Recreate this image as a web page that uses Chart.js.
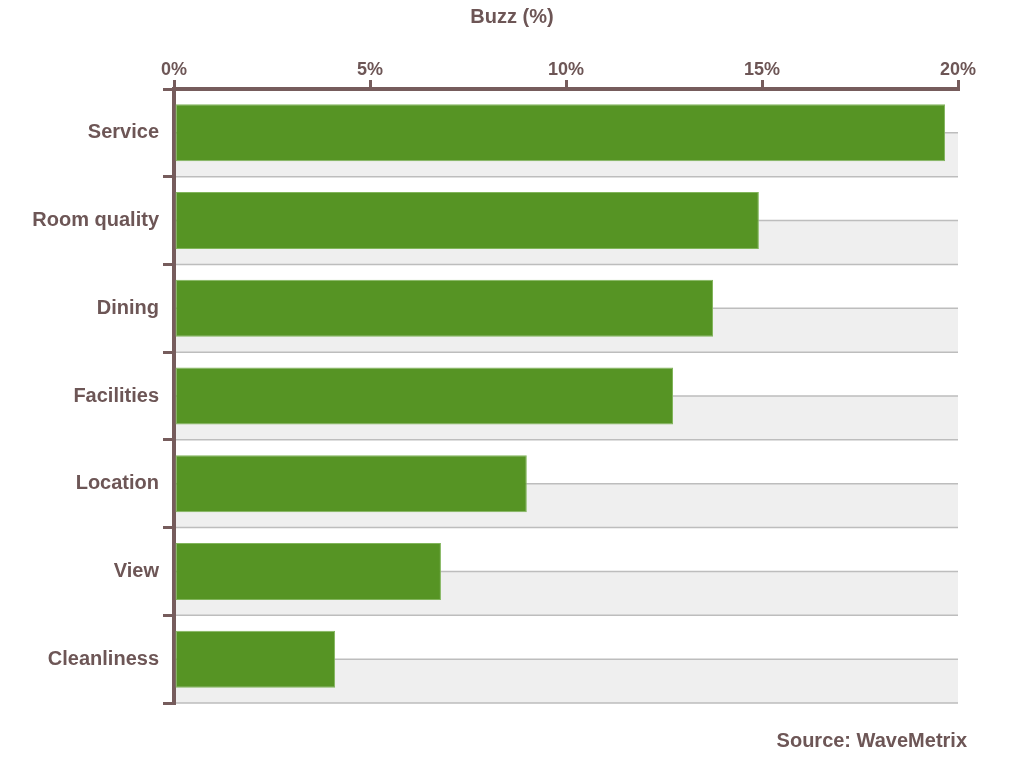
<!DOCTYPE html>
<html>
<head>
<meta charset="utf-8">
<script src="https://cdn.jsdelivr.net/npm/chart.js@4/dist/chart.umd.min.js"></script>
<style>
  html, body { margin: 0; padding: 0; background: #fff; }
  #wrap { width: 1024px; height: 768px; position: relative; }
</style>
</head>
<body>
<div id="wrap"><canvas id="buzzChart" width="1024" height="768"></canvas></div>
<script>
const categories = ["Service", "Room quality", "Dining", "Facilities", "Location", "View", "Cleanliness"];
const buzzValues = [19.67, 14.92, 13.75, 12.73, 9.0, 6.81, 4.11];
const xTickValues = [0, 5, 10, 15, 20];

const brown = "#765c5c";
const textBrown = "#6d5656";
const fontFamily = "'Liberation Sans', Arial, sans-serif";

// grey lower half of each row plus the thin rules, drawn before the axes
const bandPlugin = {
  id: "bands",
  beforeDraw(chart) {
    const { ctx, chartArea, scales } = chart;
    const y = scales.y;
    const half = (y.getPixelForValue(1) - y.getPixelForValue(0)) / 2;
    ctx.save();
    categories.forEach((c, i) => {
      const mid = y.getPixelForValue(i);
      ctx.fillStyle = "#efefef";
      ctx.fillRect(chartArea.left, mid, chartArea.right - chartArea.left, half);
      ctx.strokeStyle = "#bdbdbd";
      ctx.lineWidth = 1.5;
      ctx.beginPath();
      ctx.moveTo(chartArea.left, mid);
      ctx.lineTo(chartArea.right, mid);
      ctx.moveTo(chartArea.left, mid + half);
      ctx.lineTo(chartArea.right, mid + half);
      ctx.stroke();
    });
    ctx.restore();
  }
};

const textPlugin = {
  id: "texts",
  afterDraw(chart) {
    const { ctx, chartArea } = chart;
    ctx.save();
    ctx.fillStyle = textBrown;
    ctx.textBaseline = "middle";
    ctx.font = "bold 20px " + fontFamily;
    ctx.textAlign = "center";
    ctx.fillText("Buzz (%)", chart.width / 2, 17);
    ctx.textAlign = "right";
    ctx.fillText("Source: WaveMetrix", chartArea.right + 9, 741);
    ctx.restore();
  }
};

new Chart(document.getElementById("buzzChart"), {
  type: "bar",
  data: {
    labels: categories,
    datasets: [{
      label: "Buzz (%)",
      data: buzzValues,
      backgroundColor: "#569424",
      borderColor: "#82b55c",
      borderWidth: 1,
      borderSkipped: false,
      barPercentage: 0.65,
      categoryPercentage: 1.0
    }]
  },
  options: {
    indexAxis: "y",
    responsive: false,
    animation: false,
    layout: { padding: { left: 0, right: 66, top: 38, bottom: 65 } },
    scales: {
      x: {
        position: "top",
        min: 0,
        max: 20,
        afterBuildTicks(scale) {
          scale.ticks = xTickValues.map(v => ({ value: v }));
        },
        afterFit(scale) {
          scale.height = 51;
        },
        ticks: {
          callback: v => v + "%",
          color: textBrown,
          font: { family: fontFamily, size: 18, weight: "bold" },
          padding: -1,
          maxRotation: 0
        },
        grid: {
          drawOnChartArea: false,
          drawTicks: true,
          tickLength: 9,
          color: brown,
          lineWidth: 3
        },
        border: { color: brown, width: 4 }
      },
      y: {
        afterFit(scale) {
          scale.width = 174;
        },
        ticks: {
          color: textBrown,
          font: { family: fontFamily, size: 20, weight: "bold" },
          padding: 4
        },
        grid: {
          offset: true,
          drawOnChartArea: false,
          drawTicks: true,
          tickLength: 11,
          color: brown,
          lineWidth: 3
        },
        border: { color: brown, width: 4 }
      }
    },
    plugins: {
      legend: { display: false },
      tooltip: { enabled: false },
      title: { display: false }
    }
  },
  plugins: [bandPlugin, textPlugin]
});
</script>
</body>
</html>
